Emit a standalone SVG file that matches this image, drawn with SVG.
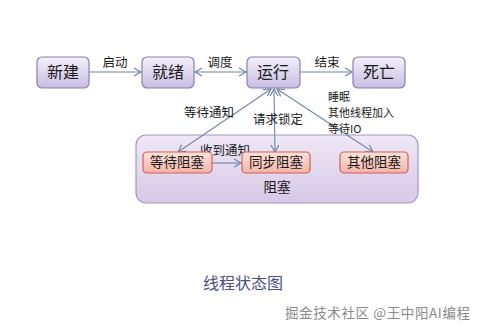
<svg xmlns="http://www.w3.org/2000/svg" width="482" height="330" viewBox="0 0 482 330">
<style>
text{font-family:"Noto Sans CJK SC","Noto Sans",sans-serif;fill:#1a1a1a}
.n{font-size:16px}
.s{font-size:13.5px}
.l{font-size:12.5px}
.m{font-size:11px}
.top{fill:url(#gTop);stroke:#8a80ad;stroke-width:1.2}
.blk{fill:url(#gBlk);stroke:#d0605a;stroke-width:1.2}
.c{stroke:#6f86a8;stroke-width:1.1;fill:none}
</style>
<defs>
<linearGradient id="gTop" x1="0" y1="0" x2="0" y2="1"><stop offset="0" stop-color="#f4f0fb"/><stop offset="1" stop-color="#c9bde2"/></linearGradient>
<linearGradient id="gBlk" x1="0" y1="0" x2="0" y2="1"><stop offset="0" stop-color="#fde3dc"/><stop offset="1" stop-color="#f4b3a6"/></linearGradient>
<linearGradient id="gBox" x1="0" y1="0" x2="0" y2="1"><stop offset="0" stop-color="#efe8f6"/><stop offset="1" stop-color="#d6c8e6"/></linearGradient>
<marker id="a" markerWidth="10" markerHeight="10" refX="8" refY="5" orient="auto-start-reverse" markerUnits="userSpaceOnUse"><path d="M1,1 L8,5 L1,9" fill="none" stroke="#6f86a8" stroke-width="1.2"/></marker>
</defs>
<rect width="482" height="330" fill="#fff"/>
<g id="blocked">
<rect x="136" y="135" width="282" height="68" rx="10" fill="url(#gBox)" stroke="#a596c0" stroke-width="1.2"/>
<text class="s" x="277" y="192" text-anchor="middle">阻塞</text>
</g>
<g id="connectors">
<line class="c" x1="89" y1="72" x2="141" y2="72" marker-end="url(#a)"/>
<line class="c" x1="195" y1="72" x2="246" y2="72" marker-start="url(#a)" marker-end="url(#a)"/>
<line class="c" x1="300" y1="72" x2="352" y2="72" marker-end="url(#a)"/>
<line class="c" x1="271" y1="89" x2="178" y2="152" marker-start="url(#a)" marker-end="url(#a)"/>
<line class="c" x1="274" y1="89" x2="275" y2="152" marker-start="url(#a)" marker-end="url(#a)"/>
<line class="c" x1="277" y1="89" x2="373" y2="152" marker-start="url(#a)" marker-end="url(#a)"/>
<line class="c" x1="212" y1="163" x2="241" y2="163" marker-end="url(#a)"/>
<text class="l" x="115" y="67" text-anchor="middle">启动</text>
<text class="l" x="220" y="67" text-anchor="middle">调度</text>
<text class="l" x="327" y="67" text-anchor="middle">结束</text>
<text class="l" x="209" y="117" text-anchor="middle">等待通知</text>
<text class="l" x="278" y="124" text-anchor="middle">请求锁定</text>
<text class="m" x="328" y="101">睡眠</text>
<text class="m" x="328" y="117">其他线程加入</text>
<text class="m" x="328" y="133">等待IO</text>
<text class="l" x="225" y="155" text-anchor="middle">收到通知</text>
</g>
<g id="n-new"><rect class="top" x="37" y="57" width="52" height="31" rx="5"/><text class="n" x="63" y="78" text-anchor="middle">新建</text></g>
<g id="n-ready"><rect class="top" x="142" y="57" width="52" height="31" rx="5"/><text class="n" x="168" y="78" text-anchor="middle">就绪</text></g>
<g id="n-run"><rect class="top" x="247" y="57" width="53" height="31" rx="5"/><text class="n" x="273" y="78" text-anchor="middle">运行</text></g>
<g id="n-dead"><rect class="top" x="353" y="57" width="52" height="31" rx="5"/><text class="n" x="379" y="78" text-anchor="middle">死亡</text></g>
<g id="n-wait"><rect class="blk" x="143" y="152" width="69" height="21" rx="4"/><text class="s" x="177" y="167" text-anchor="middle">等待阻塞</text></g>
<g id="n-sync"><rect class="blk" x="242" y="152" width="68" height="21" rx="4"/><text class="s" x="276" y="167" text-anchor="middle">同步阻塞</text></g>
<g id="n-other"><rect class="blk" x="340" y="152" width="68" height="21" rx="4"/><text class="s" x="374" y="167" text-anchor="middle">其他阻塞</text></g>
<text x="243" y="289" text-anchor="middle" style="font-size:16px;fill:#4b4f86">线程状态图</text>
<text x="285" y="318" textLength="185" style="font-size:13.5px;fill:#8a8a8a">掘金技术社区 @王中阳AI编程</text>
</svg>
